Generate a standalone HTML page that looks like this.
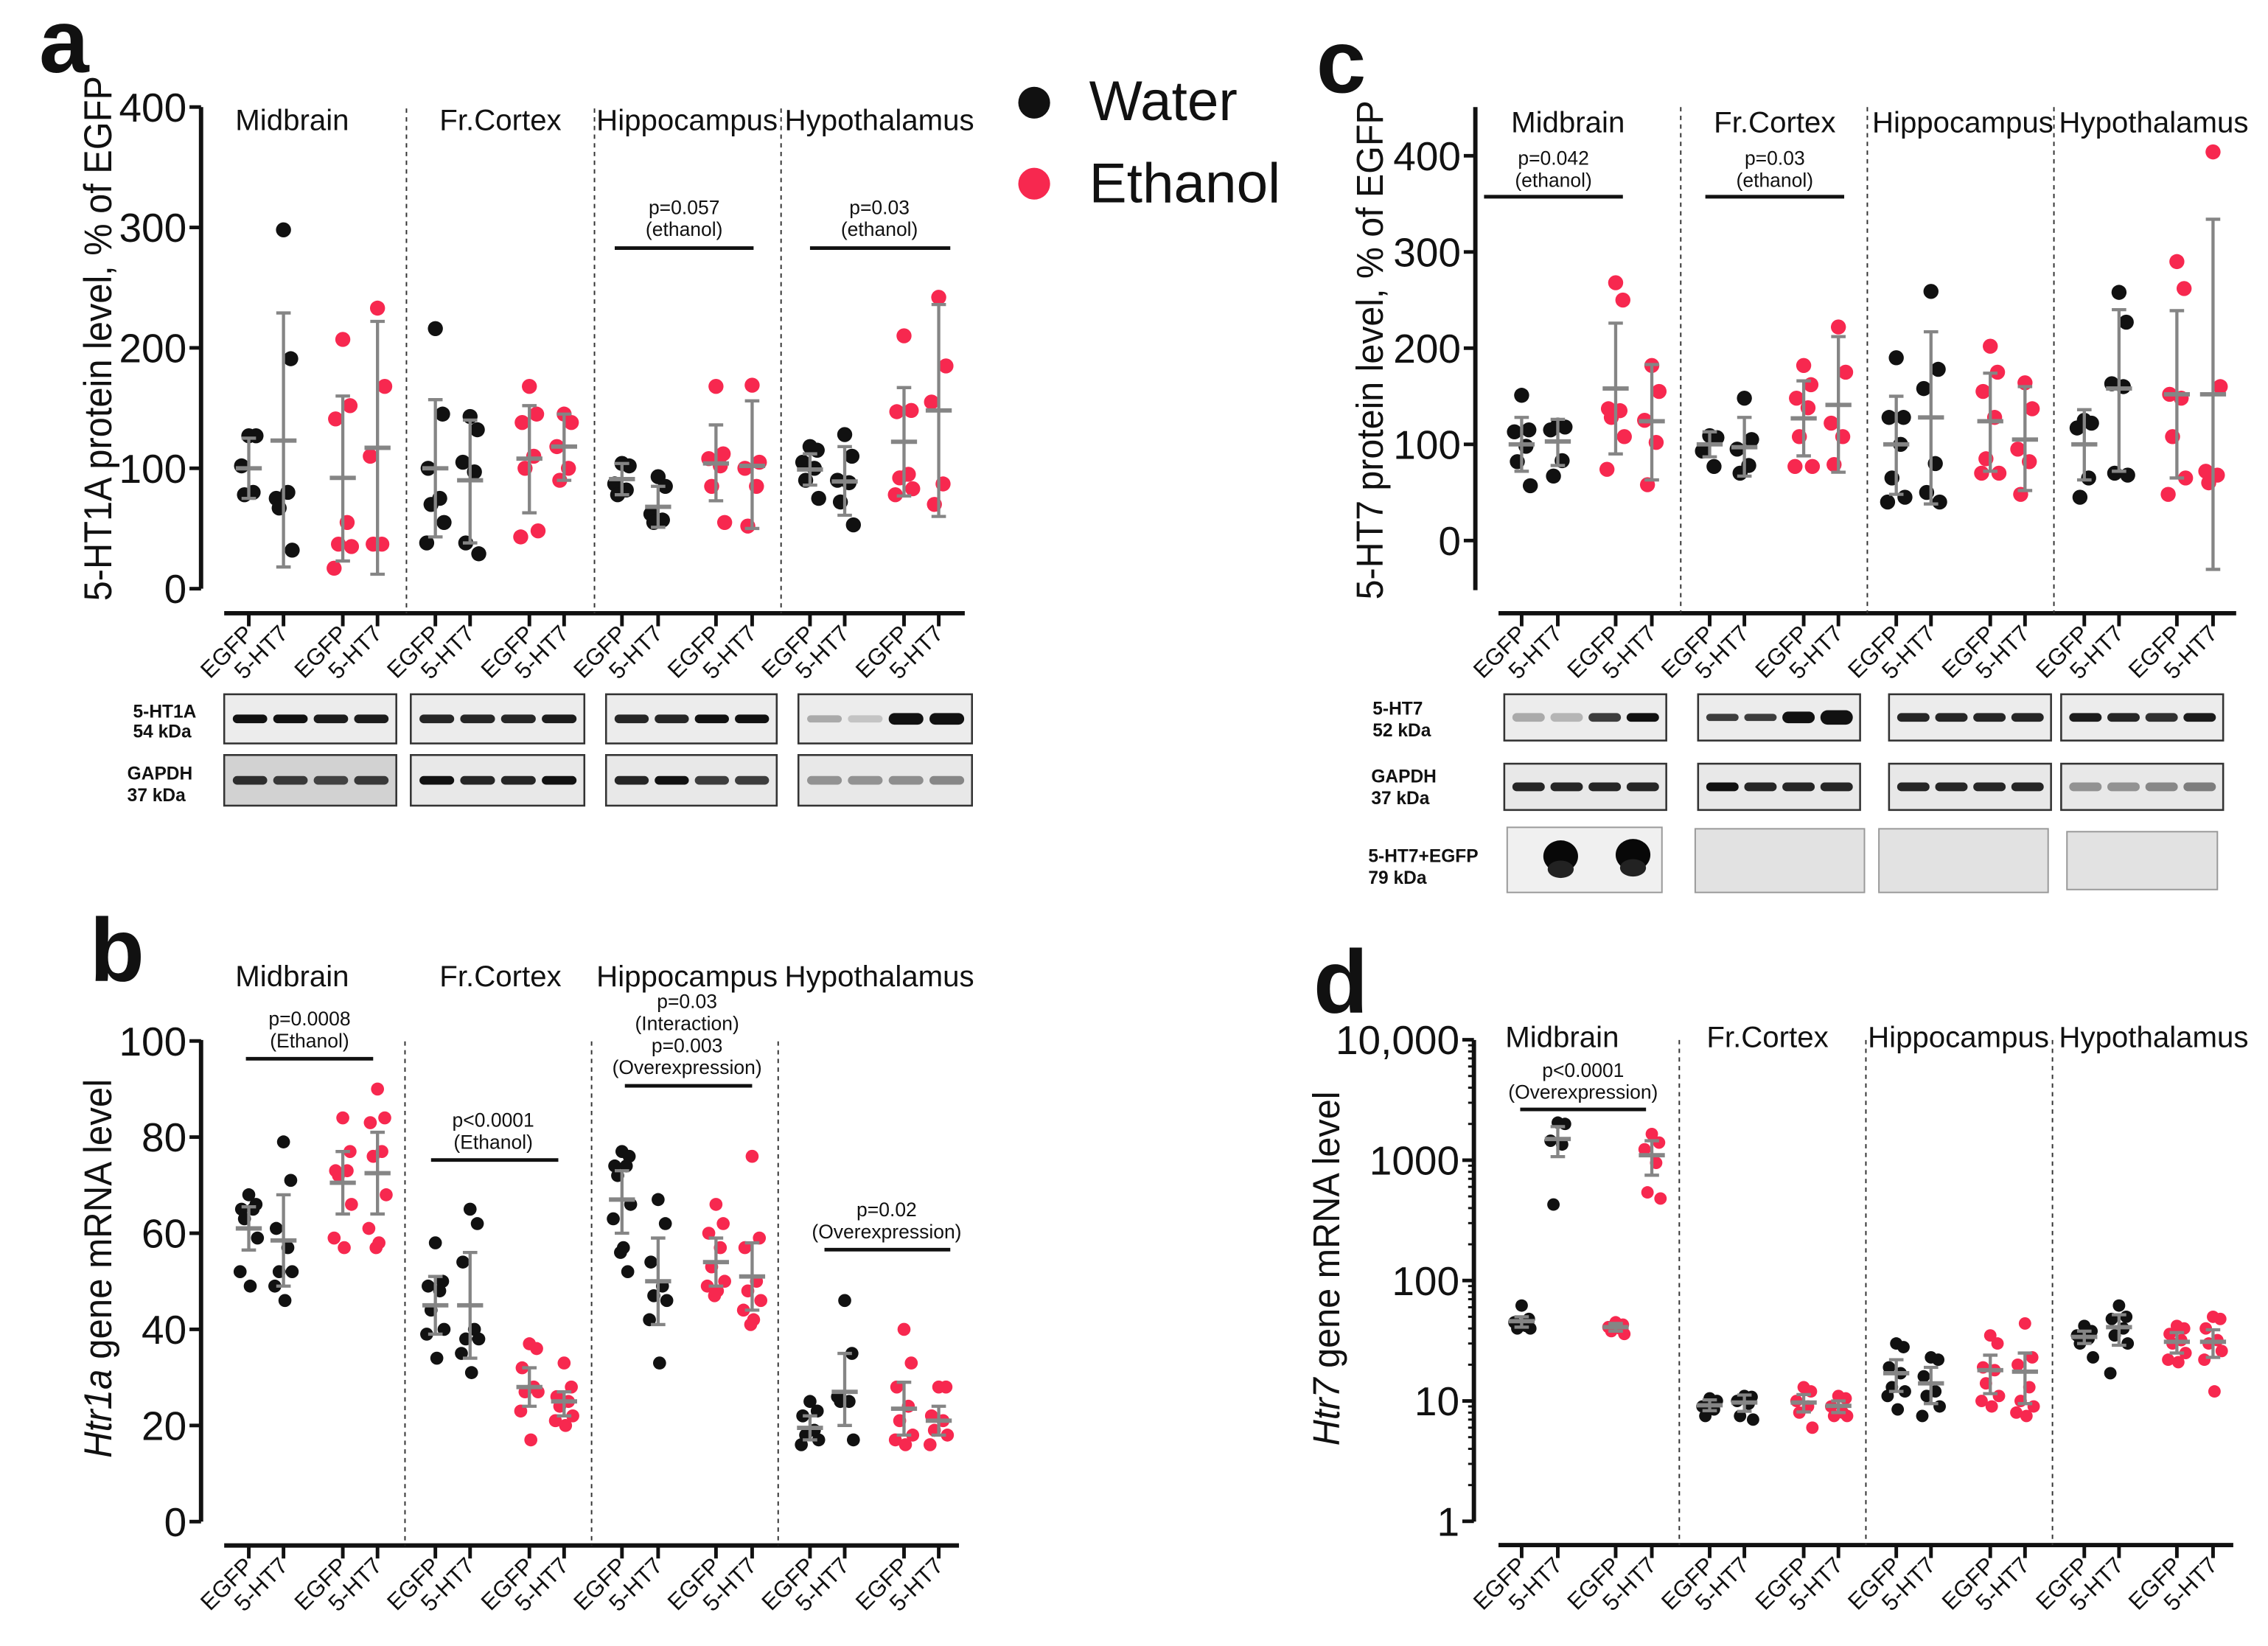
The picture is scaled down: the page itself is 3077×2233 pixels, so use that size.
<!DOCTYPE html>
<html><head><meta charset="utf-8"><title>Figure</title>
<style>
html,body{margin:0;padding:0;background:#fff;}
svg{display:block;}
text{font-family:"Liberation Sans",Arial,sans-serif;fill:#111;}
</style></head>
<body>
<svg id="fig" xmlns="http://www.w3.org/2000/svg" width="3077" height="2233" viewBox="0 0 1568 1138" preserveAspectRatio="none"></svg>
<script>
// ---------------- DATA ----------------
const regions = ['Midbrain','Fr.Cortex','Hippocampus','Hypothalamus'];
const groupLabels = ['EGFP','5-HT7','EGFP','5-HT7'];

// Panel a: 5-HT1A protein (% of EGFP)
const aPoints = [
 [127,127,102,80,78],[298,191,75,80,67,32],[207,152,141,55,37,35,17],[233,168,110,37,37],
 [216,145,100,75,70,55,38],[143,132,105,97,38,29],[168,145,138,110,100,48,43],[145,138,118,100,90],
 [104,102,87,82,78],[93,85,62,57,55],[168,112,108,102,85,55],[169,105,100,85,52],
 [118,115,105,100,90,75],[128,110,90,88,72,53],[210,148,147,95,92,83,78],[242,185,155,87,70]
];
const aMean = [100,123,92,117, 100,90,108,118, 91,68,104,102, 99,89,122,148];
const aLo   = [75,18,23,12, 43,38,63,90, 78,51,73,50, 86,61,77,60];
const aHi   = [125,229,160,222, 157,140,152,145, 104,85,136,156, 112,118,167,236];
const aTicks = [0,100,200,300,400];

// Panel b: Htr1a mRNA
const bPoints = [
 [68,66,65,65,63,59,52,49],[79,71,61,57,52,52,49,46],[84,77,73,73,72,66,59,57],[90,84,83,77,76,68,61,58,57],
 [58,50,49,48,44,40,39,34],[65,62,54,40,38,38,35,31],[37,36,32,28,27,27,23,17],[33,28,26,25,24,22,21,20],
 [77,76,74,74,72,66,63,57,56,52],[67,62,54,49,47,46,42,33],[66,62,60,57,53,50,49,48,47],[76,59,57,50,48,46,44,42,41],
 [25,23,22,19,18,17,16],[46,35,26,25,25,17],[40,33,28,24,21,18,17,16],[28,28,22,21,19,18,16]
];
const bMean = [61,58.5,70.5,72.5, 45,45,28,25, 67,50,54,51, 19.5,27,23.5,21];
const bLo   = [56.5,49,64,64, 39,34,24,22, 60,41,49,44, 17,20,18,18];
const bHi   = [65.5,68,77,81, 51,56,32,27, 73,59,59,58, 22,35,29,24];
const bTicks = [0,20,40,60,80,100];

// Panel c: 5-HT7 protein (% of EGFP)
const cPoints = [
 [151,115,113,98,82,57],[120,118,115,83,67],[268,250,137,135,128,108,74],[182,155,125,102,58],
 [109,107,93,77],[148,105,95,78,70],[182,162,148,138,108,77,77],[222,175,122,108,79],
 [190,128,128,100,65,45,40],[259,178,158,80,50,40],[202,175,155,128,85,70,70],[164,137,95,82,48],
 [125,122,117,65,45],[258,227,163,160,70,68],[290,262,152,148,108,65,48],[404,160,72,68,60]
];
const cMean = [100,103,158,124, 100,97,127,141, 100,128,124,105, 100,158,152,152];
const cLo   = [72,78,90,63, 87,67,88,71, 48,38,72,52, 63,72,65,-30];
const cHi   = [128,126,226,183, 113,128,166,212, 150,217,174,160, 136,240,239,334];
const cTicks = [0,100,200,300,400];

// Panel d: Htr7 mRNA (log)
const dPoints = [
 [62,48,45,42,40,40],[2050,2000,1450,1350,428],[45,43,41,40,38,36],[1650,1400,1230,950,540,480],
 [10.5,10,9,8.5,7.5],[11,10.8,10,9.5,7.5,7],[13,12,10,9,8,6],[11,10.5,9,8,7.5,7.5],
 [30,28,19,17,13,12,11,8.5],[23,22,16,12,11,9,7.5],[35,30,19,18,14,11,10,9],[44,23,20,13,10,9,8,7.5],
 [42,38,35,33,30,23],[62,50,48,40,35,30,17],[42,40,36,32,30,25,22,21],[50,48,40,32,30,26,22,12]
];
const dMean = [46,1500,41,1100, 9.2,9.7,9.7,9.1, 17,14,18,17.5, 34,41,31,31];
const dLo   = [41,1070,38,750, 8.3,8.2,8.1,8, 12,9.5,11.5,9.5, 30,29,25,23];
const dHi   = [50,1900,44,1450, 10.2,11.2,11.3,10, 22,19,24,25, 38,52,37,39];
const dTicks = [1,10,100,1000,10000];
const dTickLabels = ['1','10','100','1000','10,000'];

// ---------------- DRAWING ----------------
const NS='http://www.w3.org/2000/svg';
const svg=document.getElementById('fig');
function mk(tag, attrs, parent){const e=document.createElementNS(NS,tag);for(const k in attrs)e.setAttribute(k,attrs[k]);(parent||svg).appendChild(e);return e;}
function txt(str, attrs, parent){const e=mk('text',attrs,parent);e.textContent=str;return e;}
const BLACK='#111', RED='#f7284f', GREY='#858585';
const JIT=[0,5,-5,3,-3,6,-6,1,-1,4,-4];

function drawPanel(name, cfg, pts, mean, lo, hi, ticks, tickLabels){
  const g=mk('g',{});
  
  
  const y=cfg.y;
  // y axis
  const ya=mk('line',{x1:cfg.axisX,x2:cfg.axisX,y1:cfg.yTop,y2:cfg.yBot,stroke:BLACK,'stroke-width':3},g);
  
  
  ticks.forEach((t,i)=>{
    const tl=mk('line',{x1:cfg.axisX-8,x2:cfg.axisX,y1:y(t),y2:y(t),stroke:BLACK,'stroke-width':2.5},g);
    
    
    const lb=txt(tickLabels?tickLabels[i]:String(t),{x:cfg.axisX-10,y:y(t)+10,'text-anchor':'end','font-size':28},g);
    
    
  });
  if(cfg.log){
    for(let d=0; d<4; d++){
      for(let k=2;k<10;k++){
        const v=Math.pow(10,d)*k;
        const mt=mk('line',{x1:cfg.axisX-4,x2:cfg.axisX,y1:y(v),y2:y(v),stroke:BLACK,'stroke-width':1.5},g);
        
        
      }
    }
  }
  // y title
  const yt=txt('',{x:0,y:0,'text-anchor':'middle','font-size':cfg.titleSize,transform:`translate(${cfg.ytX},${cfg.ytY}) rotate(-90)`,textLength:cfg.ytLen,lengthAdjust:'spacingAndGlyphs'},g);
  
  
  cfg.ytParts.forEach(p=>{const ts=mk('tspan',{'font-style':p[1]?'italic':'normal'},yt);ts.textContent=p[0];});
  // x axis
  const xa=mk('line',{x1:cfg.xX1,x2:cfg.xX2,y1:cfg.xAxisY,y2:cfg.xAxisY,stroke:BLACK,'stroke-width':3},g);
  
  
  cfg.catX.forEach((cx,i)=>{
    const tk=mk('line',{x1:cx,x2:cx,y1:cfg.xAxisY,y2:cfg.xAxisY+9,stroke:BLACK,'stroke-width':2.5},g);
    
    
    const lx=cx+4, ly=cfg.xAxisY+15;
    const tl=txt(groupLabels[i%4],{x:lx,y:ly,'text-anchor':'end','font-size':16,transform:`rotate(-45 ${lx} ${ly})`},g);
    
    
  });
  // dividers
  cfg.divX.forEach(dx=>{
    const dl=mk('line',{x1:dx,x2:dx,y1:cfg.divTop,y2:cfg.xAxisY,stroke:'#333','stroke-width':1,'stroke-dasharray':'3,3'},g);
    
    
  });
  // region titles
  regions.forEach((r,i)=>{
    const rt=txt(r,{x:cfg.regX[i],y:cfg.regY,'text-anchor':'middle','font-size':20.5},g);
    
    
  });
  // annotations
  cfg.ann.forEach(a=>{
    a.lines.forEach((l,k)=>{
      const at=txt(l,{x:a.cx,y:a.ty+k*15.2,'text-anchor':'middle','font-size':13.5},g);
      
      
    });
    const al=mk('line',{x1:a.x1,x2:a.x2,y1:a.ly,y2:a.ly,stroke:BLACK,'stroke-width':2.5},g);
    
    
  });
  // points
  pts.forEach((arr,i)=>{
    const col=(i%4<2)?BLACK:RED;
    arr.forEach((v,j)=>{
      const c=mk('circle',{cx:cfg.catX[i]+JIT[j%JIT.length],cy:y(v),r:cfg.r,fill:col},g);
      
      
    });
  });
  // error bars + mean
  mean.forEach((m,i)=>{
    const cx=cfg.catX[i];
    const v=mk('line',{x1:cx,x2:cx,y1:y(lo[i]),y2:y(hi[i]),stroke:GREY,'stroke-width':2.2},g);
    
    
    [lo[i],hi[i]].forEach(b=>{
      const cap=mk('line',{x1:cx-5,x2:cx+5,y1:y(b),y2:y(b),stroke:GREY,'stroke-width':2.2},g);
      
      
    });
    const ml=mk('line',{x1:cx-9,x2:cx+9,y1:y(m),y2:y(m),stroke:GREY,'stroke-width':3},g);
    
    
  });
}

// panel labels
[['a',27,50],['b',62,678],['c',910,64],['d',908,700]].forEach(p=>{
  const t=txt(p[0],{x:p[1],y:p[2],'font-size':62,'font-weight':'bold'});
  
  
});

const leftCat=[172,196,237,261, 301,325,366,390, 430,455,495,520, 560,584,625,649];
const rightCat=[1052,1077,1117,1142, 1182,1206,1247,1271, 1311,1335,1376,1400, 1441,1465,1505,1530];

drawPanel('panel-a',{
  y:v=>407-v*0.8325, axisX:139, yTop:74, yBot:407, xAxisY:424, xX1:155, xX2:667,
  catX:leftCat, divX:[281,411,540], divTop:75, regX:[202,346,475,608], regY:90, r:5.2,
  ytX:77, ytY:234, ytLen:363, titleSize:27, ytParts:[['5-HT1A protein level, % of EGFP',false]],
  ann:[{cx:473,ty:148,lines:['p=0.057','(ethanol)'],x1:425,x2:521,ly:171.5},
       {cx:608,ty:148,lines:['p=0.03','(ethanol)'],x1:560,x2:657,ly:171.5}]
}, aPoints,aMean,aLo,aHi,aTicks);

drawPanel('panel-b',{
  y:v=>1052-v*3.323, axisX:139, yTop:719, yBot:1052, xAxisY:1068.5, xX1:155, xX2:663,
  catX:leftCat, divX:[280,409,538], divTop:720, regX:[202,346,475,608], regY:682, r:4.5,
  ytX:77, ytY:877, ytLen:262, titleSize:27, ytParts:[['Htr1a',true],[' gene mRNA level',false]],
  ann:[{cx:214,ty:709,lines:['p=0.0008','(Ethanol)'],x1:170,x2:258,ly:732},
       {cx:341,ty:779,lines:['p<0.0001','(Ethanol)'],x1:298,x2:386,ly:802},
       {cx:475,ty:697,lines:['p=0.03','(Interaction)','p=0.003','(Overexpression)'],x1:432,x2:520,ly:750.7},
       {cx:613,ty:841,lines:['p=0.02','(Overexpression)'],x1:570,x2:657,ly:864}]
}, bPoints,bMean,bLo,bHi,bTicks);

drawPanel('panel-c',{
  y:v=>373.7-v*0.665, axisX:1020, yTop:74, yBot:408, xAxisY:424, xX1:1036, xX2:1546,
  catX:rightCat, divX:[1162,1291,1420], divTop:74, regX:[1084,1227,1357,1489], regY:91.5, r:5.2,
  ytX:956, ytY:242, ytLen:345, titleSize:26, ytParts:[['5-HT7 protein level, % of EGFP',false]],
  ann:[{cx:1074,ty:114,lines:['p=0.042','(ethanol)'],x1:1026,x2:1122,ly:136},
       {cx:1227,ty:114,lines:['p=0.03','(ethanol)'],x1:1179,x2:1275,ly:136}]
}, cPoints,cMean,cLo,cHi,cTicks);

drawPanel('panel-d',{
  y:v=>1051.8-Math.log10(v)*83.23, log:true, axisX:1019, yTop:719, yBot:1052, xAxisY:1068.2, xX1:1036, xX2:1544,
  catX:rightCat, divX:[1161,1290,1419], divTop:719, regX:[1080,1222,1354,1489], regY:724, r:4.3,
  ytX:926, ytY:877, ytLen:245, titleSize:26, ytParts:[['Htr7',true],[' gene mRNA level',false]],
  ann:[{cx:1094.5,ty:744.5,lines:['p<0.0001','(Overexpression)'],x1:1051,x2:1138,ly:767}]
}, dPoints,dMean,dLo,dHi,dTicks,dTickLabels);

// legend
[['Water',BLACK,71,83],['Ethanol',RED,127,140]].forEach(l=>{
  const c=mk('circle',{cx:715,cy:l[2],r:11,fill:l[1]});
  
  
  const t=txt(l[0],{x:753,y:l[3],'font-size':39});
  
  
});

// blots
function blot(name,x,y,w,h,bands,thick,bg,stroke){
  const g=mk('g',{});
  
  
  mk('rect',{x:x,y:y,width:w,height:h,fill:bg,stroke:stroke,'stroke-width':1.3},g);
  bands.forEach((o,i)=>{
    if(o<=0) return;
    const bx=x+w*(0.05+i*0.235);
    const th=thick[i]||thick;
    mk('rect',{x:bx,y:y+h/2-th/2,width:w*0.2,height:th,rx:th/2,fill:'#111','fill-opacity':o},g);
  });
}
function blob(x,y){
  mk('ellipse',{cx:x,cy:y,rx:12,ry:11,fill:'#080808'});
  mk('ellipse',{cx:x,cy:y+9,rx:9,ry:6,fill:'#222'});
}
// panel a blots
const aBox=[[155,274],[284,404],[419,537],[552,672]];
const aRow1=[[1,1,.95,.95],[.9,.9,.9,.95],[.9,.9,1,1],[.3,.18,1,1]];
const aRow2=[[.85,.8,.75,.8],[1,.9,.9,1],[.9,1,.8,.8],[.4,.4,.42,.45]];
aBox.forEach((b,i)=>{
  blot('blot-5ht1a-'+(i+1),b[0],480,b[1]-b[0],34,aRow1[i],i===3?[5,5,8,8]:6,'#ececec','#333');
  blot('blot-gapdh-a-'+(i+1),b[0],522,b[1]-b[0],35,aRow2[i],6,i===0?'#d2d2d2':'#e8e8e8','#333');
});
[['5-HT1A',92,496],['54 kDa',92,510],['GAPDH',88,539],['37 kDa',88,554]].forEach(t=>{
  const e=txt(t[0],{x:t[1],y:t[2],'font-size':12.5,'font-weight':'bold'});
  
  
});
// panel c blots
const cBox=[[1040,1152],[1174,1286],[1306,1418],[1425,1537]];
const cRow1=[[.3,.25,.8,1],[.8,.8,1,1],[.9,.9,.9,.9],[.95,.9,.85,.95]];
const cRow2=[[.9,.9,.9,.9],[1,.9,.9,.9],[.9,.9,.9,.9],[.4,.4,.45,.5]];
cBox.forEach((b,i)=>{
  blot('blot-5ht7-'+(i+1),b[0],480,b[1]-b[0],32,cRow1[i],i===1?[5,5,8,10]:6,'#ececec','#333');
  blot('blot-gapdh-c-'+(i+1),b[0],528,b[1]-b[0],32,cRow2[i],6,'#e8e8e8','#333');
});
const cBox3=[[1042,1149,572,45],[1172,1289,573,44],[1299,1416,573,44],[1429,1533,575,40]];
cBox3.forEach((b,i)=>{
  const r=mk('rect',{x:b[0],y:b[2],width:b[1]-b[0],height:b[3],fill:i===0?'#f0f0f0':'#e2e2e2',stroke:'#999','stroke-width':1});
  
  
});
blob(1079,592); blob(1129,591);
[['5-HT7',949,494],['52 kDa',949,509],['GAPDH',948,541],['37 kDa',948,556],['5-HT7+EGFP',946,596],['79 kDa',946,611]].forEach(t=>{
  const e=txt(t[0],{x:t[1],y:t[2],'font-size':12.5,'font-weight':'bold'});
  
  
});
</script>
</body></html>
